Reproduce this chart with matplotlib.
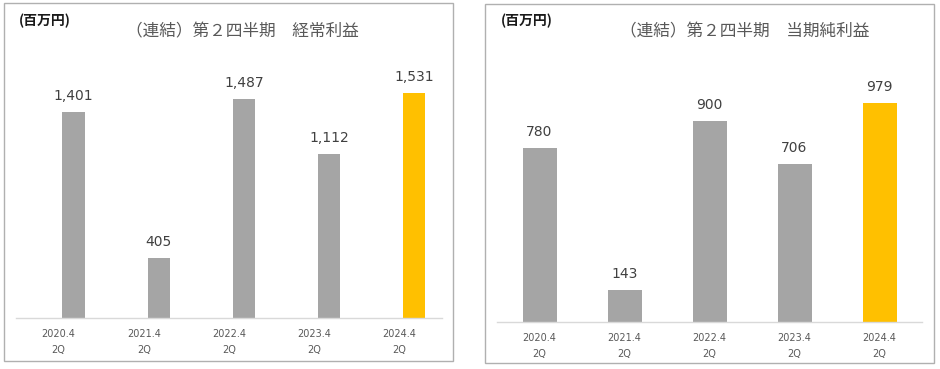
import matplotlib
matplotlib.use("Agg")
import matplotlib.pyplot as plt
from matplotlib.patches import Rectangle

plt.rcParams['font.family'] = ['DejaVu Sans', 'Noto Sans CJK JP']

categories = ["2020.4\n2Q", "2021.4\n2Q", "2022.4\n2Q", "2023.4\n2Q", "2024.4\n2Q"]
ordinary_profit = [1401, 405, 1487, 1112, 1531]
net_profit = [780, 143, 900, 706, 979]
title_left = "（連結）第２四半期　経常利益"
title_right = "（連結）第２四半期　当期純利益"
unit_label = "(百万円)"

W, H = 940, 369
fig = plt.figure(figsize=(W / 100, H / 100), dpi=100)

GREY = "#A5A5A5"
YELLOW = "#FFC000"
colors = [GREY, GREY, GREY, GREY, YELLOW]


def px_axes(x0, x1, ytop, ybot):
    return fig.add_axes([x0 / W, 1 - ybot / H, (x1 - x0) / W, (ybot - ytop) / H])


def panel(x0, x1, y0, y1):
    fig.patches.append(Rectangle((x0 / W, 1 - y1 / H), (x1 - x0) / W, (y1 - y0) / H,
                                 transform=fig.transFigure, fill=False,
                                 edgecolor="#B0B0B0", linewidth=1.0))


def draw(ax, values, width, ymax, offset_px, shift=0.0):
    x = list(range(len(values)))
    xb = [i + shift for i in x]
    ax.bar(xb, values, width=width, color=colors, zorder=2)
    ax.set_xlim(-0.5, len(values) - 0.5)
    ax.set_ylim(0, ymax)
    for s in ["top", "right", "left"]:
        ax.spines[s].set_visible(False)
    ax.spines["bottom"].set_color("#D9D9D9")
    ax.spines["bottom"].set_linewidth(1.0)
    ax.set_yticks([])
    ax.set_xticks(x)
    ax.set_xticklabels(categories, fontsize=7, color="#595959", linespacing=1.75)
    ax.tick_params(axis="x", length=0, pad=8)
    for xi, v in zip(xb, values):
        ax.annotate(f"{v:,}", (xi, v), xytext=(0, offset_px * 0.72), textcoords="offset points",
                    ha="center", va="bottom", fontsize=10, color="#404040")


panel(4, 453, 3, 361)
panel(485, 934, 4, 363)

ax1 = px_axes(16, 442, 53, 318)
draw(ax1, ordinary_profit, 0.26, 1800, 9, shift=0.175)
ax2 = px_axes(497, 922, 54, 322)
draw(ax2, net_profit, 0.40, 1200, 9)

fig.text(242 / W, 1 - 32 / H, title_left, ha="center", va="center", fontsize=12,
         color="#595959", family=["Noto Sans CJK JP", "DejaVu Sans"])
fig.text(745 / W, 1 - 32 / H, title_right, ha="center", va="center", fontsize=12,
         color="#595959", family=["Noto Sans CJK JP", "DejaVu Sans"])
fig.text(19 / W, 1 - 21 / H, unit_label, ha="left", va="center", fontsize=10,
         color="#1A1A1A", fontweight="bold", family=["Noto Sans CJK JP", "DejaVu Sans"])
fig.text(501 / W, 1 - 21 / H, unit_label, ha="left", va="center", fontsize=10,
         color="#1A1A1A", fontweight="bold", family=["Noto Sans CJK JP", "DejaVu Sans"])

fig.savefig("out.png", dpi=100)
